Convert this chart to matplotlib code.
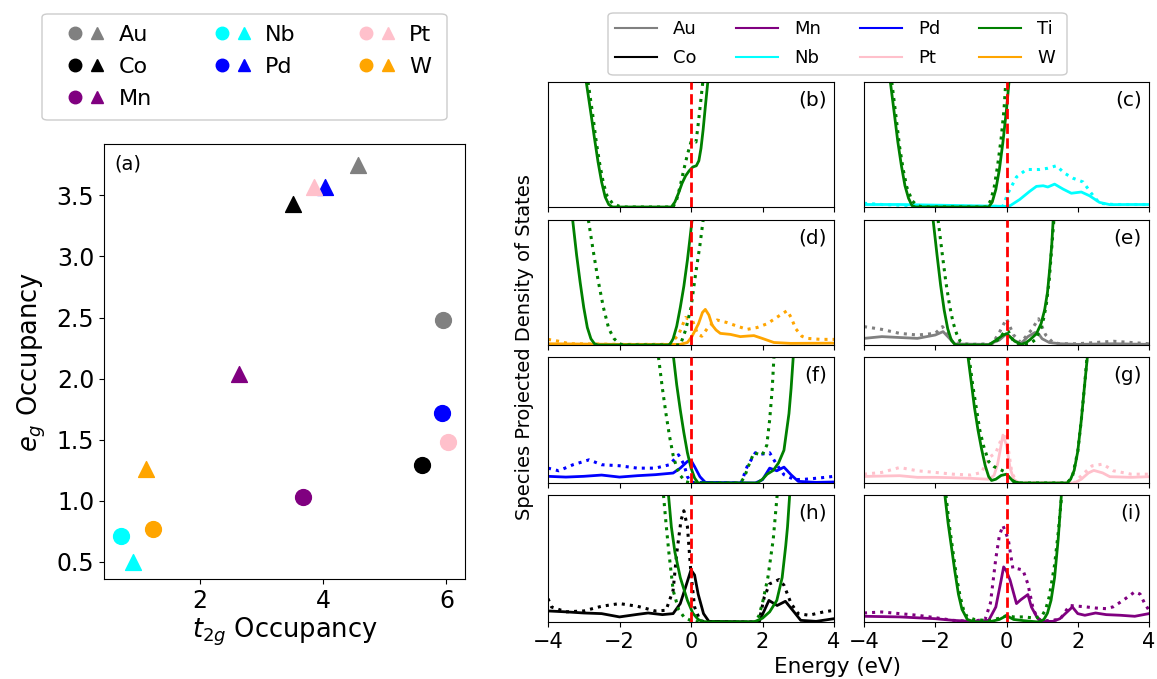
import matplotlib
matplotlib.use("Agg")
import matplotlib.pyplot as plt
from matplotlib.lines import Line2D
from matplotlib.legend_handler import HandlerTuple
from matplotlib.patches import FancyBboxPatch

# ---- (a) occupancies: (t2g, eg) for site A (circle) and site B (triangle)
species = ["Au", "Co", "Mn", "Nb", "Pd", "Pt", "W"]
colors = ["gray", "black", "purple", "cyan", "blue", "pink", "orange"]
t2g_circ = [5.95, 5.60, 3.67, 0.72, 5.93, 6.02, 1.25]
eg_circ = [2.48, 1.29, 1.03, 0.71, 1.72, 1.48, 0.77]
t2g_tri = [4.57, 3.52, 2.63, 0.92, 4.03, 3.85, 1.13]
eg_tri = [3.75, 3.43, 2.04, 0.50, 3.57, 3.57, 1.26]

# ---- (b)-(i) projected DOS, (energy eV, DOS arb.) ; solid / dotted pairs
ti_b = [(-2.93, 1.0), (-2.8, 0.75), (-2.7, 0.55), (-2.6, 0.36), (-2.5, 0.2), (-2.4, 0.08), (-2.3, 0.02),
        (-2.2, 0.0), (-0.55, 0.0), (-0.45, 0.04), (-0.35, 0.11), (-0.25, 0.19), (-0.15, 0.25), (-0.05, 0.29),
        (0.05, 0.32), (0.15, 0.33), (0.22, 0.37), (0.28, 0.47), (0.34, 0.62), (0.4, 0.8), (0.47, 1.0)]
ti_b_dot = [(-2.88, 1.0), (-2.75, 0.74), (-2.65, 0.52), (-2.55, 0.34), (-2.45, 0.19), (-2.35, 0.09),
            (-2.2, 0.03), (-2.0, 0.005), (-1.85, 0.0), (-0.5, 0.0), (-0.4, 0.06), (-0.3, 0.17), (-0.2, 0.3),
            (-0.1, 0.42), (0.0, 0.52), (0.08, 0.53), (0.14, 0.52), (0.2, 0.66), (0.27, 0.84), (0.33, 1.0)]

ti_c = [(-3.26, 1.0), (-3.15, 0.75), (-3.05, 0.52), (-2.95, 0.33), (-2.85, 0.17), (-2.75, 0.07), (-2.65, 0.01),
        (-2.55, 0.0), (-0.5, 0.0), (-0.4, 0.04), (-0.3, 0.14), (-0.2, 0.3), (-0.1, 0.52), (0.0, 0.78), (0.07, 1.0)]
ti_c_dot = [(-3.22, 1.0), (-3.1, 0.72), (-3.0, 0.48), (-2.9, 0.3), (-2.8, 0.16), (-2.65, 0.05), (-2.5, 0.01),
            (-2.35, 0.0), (-0.55, 0.0), (-0.45, 0.05), (-0.35, 0.15), (-0.25, 0.33), (-0.15, 0.55),
            (-0.07, 0.78), (-0.02, 1.0)]
nb_c = [(-4.0, 0.02), (-3.0, 0.02), (-2.0, 0.015), (-1.0, 0.01), (0.0, 0.005), (0.1, 0.01), (0.37, 0.06),
        (0.65, 0.125), (0.84, 0.165), (1.03, 0.17), (1.16, 0.16), (1.35, 0.183), (1.59, 0.143), (1.82, 0.11),
        (2.1, 0.12), (2.33, 0.09), (2.61, 0.037), (2.9, 0.019), (3.5, 0.02), (4.0, 0.02)]
nb_c_dot = [(-4.0, 0.03), (-3.5, 0.02), (-2.5, 0.01), (-1.0, 0.005), (-0.1, 0.005), (0.04, 0.11), (0.28, 0.24),
            (0.56, 0.3), (0.93, 0.3), (1.16, 0.31), (1.4, 0.33), (1.63, 0.27), (1.87, 0.23), (2.15, 0.2),
            (2.38, 0.11), (2.61, 0.03), (3.0, 0.02), (4.0, 0.02)]

ti_d = [(-3.31, 1.0), (-3.2, 0.72), (-3.1, 0.5), (-3.0, 0.3), (-2.9, 0.14), (-2.8, 0.05), (-2.7, 0.01),
        (-2.6, 0.0), (-0.6, 0.0), (-0.5, 0.05), (-0.4, 0.15), (-0.3, 0.3), (-0.2, 0.47), (-0.1, 0.68),
        (-0.03, 0.85), (0.03, 1.0)]
ti_d_dot = [(-2.87, 1.0), (-2.75, 0.78), (-2.6, 0.52), (-2.45, 0.3), (-2.3, 0.13), (-2.15, 0.05), (-2.0, 0.01),
            (-1.9, 0.0), (-0.3, 0.0), (-0.15, 0.12), (0.0, 0.3), (0.12, 0.55), (0.25, 0.8), (0.34, 1.0)]
w_d = [(-4.0, 0.01), (-2.0, 0.005), (-0.3, 0.005), (-0.1, 0.02), (0.03, 0.07), (0.21, 0.17), (0.32, 0.26),
       (0.4, 0.285), (0.5, 0.24), (0.59, 0.16), (0.7, 0.12), (0.82, 0.093), (1.1, 0.085), (1.38, 0.067),
       (1.6, 0.072), (1.76, 0.075), (1.99, 0.053), (2.32, 0.02), (2.79, 0.013), (4.0, 0.015)]
w_d_dot = [(-4.0, 0.045), (-3.7, 0.03), (-3.4, 0.01), (-2.0, 0.005), (-0.6, 0.005), (-0.35, 0.08),
           (-0.15, 0.22), (0.05, 0.19), (0.18, 0.09), (0.3, 0.07), (0.5, 0.15), (0.73, 0.2), (1.0, 0.18),
           (1.3, 0.15), (1.57, 0.125), (1.85, 0.14), (2.13, 0.17), (2.5, 0.24), (2.69, 0.275), (2.8, 0.22),
           (2.93, 0.13), (3.1, 0.07), (3.25, 0.053), (3.63, 0.045), (4.0, 0.045)]

ti_e = [(-2.06, 1.0), (-1.95, 0.72), (-1.85, 0.48), (-1.75, 0.28), (-1.65, 0.13), (-1.55, 0.04), (-1.45, 0.005),
        (-1.35, 0.0), (-0.5, 0.0), (-0.29, 0.04), (-0.12, 0.075), (0.0, 0.09), (0.12, 0.06), (0.23, 0.03),
        (0.42, 0.005), (0.55, 0.02), (0.65, 0.04), (0.84, 0.09), (0.97, 0.17), (1.07, 0.28), (1.15, 0.42),
        (1.21, 0.6), (1.27, 0.8), (1.31, 1.0)]
ti_e_dot = [(-1.92, 1.0), (-1.8, 0.72), (-1.7, 0.5), (-1.6, 0.32), (-1.5, 0.18), (-1.4, 0.09), (-1.3, 0.03),
            (-1.15, 0.0), (-0.45, 0.0), (-0.2, 0.05), (-0.05, 0.11), (0.05, 0.11), (0.2, 0.03), (0.4, 0.0),
            (0.65, 0.01), (0.8, 0.04), (0.95, 0.12), (1.05, 0.22), (1.12, 0.33), (1.2, 0.52), (1.27, 0.78),
            (1.33, 1.0)]
au_e = [(-4.0, 0.053), (-3.5, 0.067), (-3.0, 0.06), (-2.5, 0.053), (-2.0, 0.08), (-1.78, 0.107), (-1.6, 0.053),
        (-1.45, 0.008), (-0.5, 0.005), (-0.2, 0.04), (0.0, 0.09), (0.2, 0.04), (0.4, 0.01), (0.6, 0.067),
        (0.8, 0.1), (0.9, 0.09), (1.0, 0.05), (1.2, 0.02), (1.5, 0.01), (2.0, 0.005), (3.0, 0.01), (4.0, 0.005)]
au_e_dot = [(-4.0, 0.147), (-3.5, 0.125), (-3.0, 0.093), (-2.5, 0.08), (-2.0, 0.093), (-1.8, 0.147),
            (-1.65, 0.09), (-1.5, 0.02), (-1.0, 0.005), (-0.4, 0.01), (-0.2, 0.1), (0.0, 0.21), (0.2, 0.08),
            (0.4, 0.02), (0.7, 0.12), (0.9, 0.21), (1.1, 0.08), (1.3, 0.02), (1.5, 0.01), (2.0, 0.01),
            (2.5, 0.02), (3.0, 0.03), (3.5, 0.02), (4.0, 0.01)]

ti_f = [(-0.49, 1.0), (-0.4, 0.78), (-0.3, 0.58), (-0.2, 0.4), (-0.1, 0.24), (0.0, 0.12), (0.1, 0.04),
        (0.2, 0.0), (1.85, 0.0), (2.0, 0.03), (2.13, 0.07), (2.3, 0.1), (2.45, 0.16), (2.6, 0.26), (2.74, 0.55),
        (2.8, 0.75), (2.86, 1.0)]
ti_f_dot = [(-0.91, 1.0), (-0.8, 0.75), (-0.7, 0.55), (-0.6, 0.37), (-0.5, 0.22), (-0.4, 0.12), (-0.3, 0.06),
            (-0.15, 0.01), (0.0, 0.0), (1.38, 0.0), (1.5, 0.05), (1.6, 0.13), (1.76, 0.24), (1.99, 0.22),
            (2.12, 0.3), (2.2, 0.5), (2.27, 0.74), (2.32, 1.0)]
pd_f = [(-4.0, 0.053), (-3.5, 0.047), (-3.0, 0.053), (-2.5, 0.063), (-2.0, 0.047), (-1.5, 0.058), (-1.0, 0.066),
        (-0.5, 0.079), (-0.3, 0.118), (-0.1, 0.171), (0.0, 0.18), (0.1, 0.13), (0.25, 0.05), (0.4, 0.005),
        (1.8, 0.0), (2.0, 0.026), (2.2, 0.118), (2.4, 0.097), (2.6, 0.126), (2.8, 0.065), (3.0, 0.013),
        (3.5, 0.005), (4.0, 0.008)]
pd_f_dot = [(-4.0, 0.118), (-3.7, 0.097), (-3.3, 0.145), (-2.85, 0.184), (-2.5, 0.145), (-2.0, 0.137),
            (-1.5, 0.118), (-1.0, 0.118), (-0.6, 0.145), (-0.35, 0.224), (-0.2, 0.15), (-0.1, 0.05),
            (0.0, 0.005), (1.4, 0.0), (1.57, 0.13), (1.8, 0.24), (2.0, 0.23), (2.2, 0.24), (2.4, 0.145),
            (2.6, 0.066), (2.9, 0.026), (3.2, 0.03), (3.6, 0.04), (4.0, 0.053)]

ti_g = [(-1.08, 1.0), (-0.98, 0.78), (-0.9, 0.6), (-0.8, 0.42), (-0.7, 0.27), (-0.6, 0.14), (-0.5, 0.05),
        (-0.42, 0.02), (-0.3, 0.03), (-0.15, 0.06), (0.0, 0.07), (0.1, 0.04), (0.2, 0.01), (0.4, 0.0),
        (1.7, 0.0), (1.8, 0.03), (1.9, 0.1), (2.0, 0.25), (2.1, 0.5), (2.2, 0.8), (2.27, 1.0)]
ti_g_dot = [(-1.05, 1.0), (-0.95, 0.78), (-0.85, 0.6), (-0.75, 0.42), (-0.65, 0.3), (-0.5, 0.17),
            (-0.35, 0.13), (-0.2, 0.11), (-0.05, 0.09), (0.1, 0.03), (0.3, 0.0), (1.7, 0.0), (1.85, 0.05),
            (2.0, 0.25), (2.1, 0.5), (2.2, 0.8), (2.26, 1.0)]
pt_g = [(-4.0, 0.052), (-3.0, 0.058), (-2.5, 0.045), (-2.0, 0.045), (-1.5, 0.042), (-1.0, 0.037),
        (-0.5, 0.03), (-0.35, 0.06), (-0.25, 0.15), (-0.1, 0.38), (0.0, 0.3), (0.1, 0.12), (0.2, 0.03),
        (0.35, 0.0), (1.9, 0.0), (2.1, 0.03), (2.3, 0.08), (2.45, 0.1), (2.7, 0.08), (2.9, 0.05),
        (3.5, 0.045), (4.0, 0.05)]
pt_g_dot = [(-4.0, 0.07), (-3.5, 0.084), (-3.0, 0.123), (-2.5, 0.097), (-2.0, 0.084), (-1.5, 0.07),
            (-1.0, 0.063), (-0.7, 0.084), (-0.5, 0.2), (-0.3, 0.24), (-0.15, 0.345), (-0.05, 0.37),
            (0.05, 0.27), (0.15, 0.08), (0.3, 0.005), (1.9, 0.0), (2.1, 0.058), (2.4, 0.136), (2.7, 0.15),
            (3.0, 0.097), (3.5, 0.07), (4.0, 0.07)]

ti_h = [(-0.63, 1.0), (-0.55, 0.75), (-0.45, 0.55), (-0.3, 0.35), (-0.1, 0.17), (0.05, 0.07), (0.2, 0.02),
        (0.35, 0.0), (1.76, 0.0), (2.0, 0.03), (2.2, 0.08), (2.4, 0.17), (2.55, 0.35), (2.65, 0.6),
        (2.7, 0.75), (2.76, 1.0)]
ti_h_dot = [(-0.77, 1.0), (-0.7, 0.78), (-0.62, 0.55), (-0.5, 0.25), (-0.35, 0.1), (-0.2, 0.04), (0.0, 0.01),
            (0.2, 0.0), (1.8, 0.0), (1.9, 0.05), (2.0, 0.15), (2.15, 0.35), (2.3, 0.65), (2.41, 1.0)]
co_h = [(-4.0, 0.087), (-3.5, 0.08), (-3.0, 0.071), (-2.5, 0.066), (-2.0, 0.04), (-1.5, 0.06), (-1.2, 0.071),
        (-0.8, 0.058), (-0.5, 0.066), (-0.3, 0.145), (-0.15, 0.276), (0.0, 0.41), (0.1, 0.37), (0.2, 0.22),
        (0.35, 0.066), (0.5, 0.005), (1.9, 0.0), (2.05, 0.09), (2.18, 0.17), (2.41, 0.13), (2.64, 0.163),
        (2.88, 0.08), (3.07, 0.013), (3.5, 0.005), (4.0, 0.026)]
co_h_dot = [(-4.0, 0.184), (-3.9, 0.118), (-3.5, 0.08), (-3.0, 0.087), (-2.5, 0.124), (-2.0, 0.145),
            (-1.5, 0.124), (-1.0, 0.087), (-0.7, 0.092), (-0.5, 0.25), (-0.4, 0.54), (-0.28, 0.8),
            (-0.2, 0.876), (-0.1, 0.75), (0.0, 0.38), (0.1, 0.118), (0.25, 0.013), (0.4, 0.0), (1.9, 0.0),
            (2.05, 0.197), (2.2, 0.3), (2.46, 0.334), (2.6, 0.29), (2.8, 0.145), (3.0, 0.066), (3.3, 0.053),
            (3.7, 0.079), (4.0, 0.092)]

ti_i = [(-1.73, 1.0), (-1.64, 0.78), (-1.55, 0.6), (-1.45, 0.4), (-1.35, 0.22), (-1.25, 0.1), (-1.1, 0.02),
        (-0.9, 0.0), (-0.5, 0.0), (-0.2, 0.02), (0.0, 0.05), (0.2, 0.02), (0.5, 0.01), (0.9, 0.0), (1.05, 0.02),
        (1.15, 0.07), (1.25, 0.17), (1.35, 0.35), (1.45, 0.65), (1.54, 1.0)]
ti_i_dot = [(-1.7, 1.0), (-1.6, 0.75), (-1.5, 0.55), (-1.4, 0.35), (-1.3, 0.2), (-1.2, 0.09), (-1.1, 0.04),
            (-0.9, 0.02), (-0.5, 0.01), (-0.2, 0.03), (0.0, 0.05), (0.2, 0.04), (0.5, 0.04), (0.8, 0.03),
            (1.0, 0.05), (1.1, 0.1), (1.2, 0.2), (1.35, 0.45), (1.45, 0.7), (1.55, 1.0)]
mn_i = [(-4.0, 0.045), (-3.0, 0.04), (-2.0, 0.026), (-1.5, 0.013), (-1.0, 0.005), (-0.5, 0.013), (-0.3, 0.118),
        (-0.15, 0.33), (-0.08, 0.434), (0.0, 0.4), (0.1, 0.33), (0.28, 0.145), (0.4, 0.175), (0.6, 0.216),
        (0.7, 0.118), (0.85, 0.04), (1.0, 0.005), (1.3, 0.005), (1.5, 0.026), (1.7, 0.079), (1.85, 0.118),
        (2.0, 0.066), (2.2, 0.053), (2.5, 0.071), (2.8, 0.058), (3.2, 0.053), (3.6, 0.045), (4.0, 0.066)]
mn_i_dot = [(-4.0, 0.071), (-3.5, 0.079), (-3.0, 0.066), (-2.5, 0.053), (-2.0, 0.034), (-1.5, 0.013),
            (-1.0, 0.005), (-0.6, 0.02), (-0.45, 0.15), (-0.3, 0.5), (-0.2, 0.68), (-0.1, 0.76), (0.05, 0.65),
            (0.18, 0.42), (0.3, 0.42), (0.46, 0.41), (0.6, 0.3), (0.75, 0.1), (0.9, 0.02), (1.1, 0.01),
            (1.5, 0.02), (1.77, 0.13), (2.2, 0.12), (2.5, 0.11), (2.8, 0.105), (3.0, 0.12), (3.27, 0.17),
            (3.6, 0.237), (3.75, 0.22), (3.88, 0.145), (4.0, 0.092)]

dos_legend = [("Au", "gray"), ("Co", "black"), ("Mn", "purple"), ("Nb", "cyan"),
              ("Pd", "blue"), ("Pt", "pink"), ("Ti", "green"), ("W", "orange")]

# panel label, Ti solid, Ti dotted, dopant solid, dopant dotted, dopant colour
panels = [
    ("(b)", ti_b, ti_b_dot, None, None, None),
    ("(c)", ti_c, ti_c_dot, nb_c, nb_c_dot, "cyan"),
    ("(d)", ti_d, ti_d_dot, w_d, w_d_dot, "orange"),
    ("(e)", ti_e, ti_e_dot, au_e, au_e_dot, "gray"),
    ("(f)", ti_f, ti_f_dot, pd_f, pd_f_dot, "blue"),
    ("(g)", ti_g, ti_g_dot, pt_g, pt_g_dot, "pink"),
    ("(h)", ti_h, ti_h_dot, co_h, co_h_dot, "black"),
    ("(i)", ti_i, ti_i_dot, mn_i, mn_i_dot, "purple"),
]

W, H = 1157, 679
fig = plt.figure(figsize=(W / 100, H / 100), dpi=100)


def px_axes(x0, y0, x1, y1):
    return fig.add_axes([x0 / W, 1 - y1 / H, (x1 - x0) / W, (y1 - y0) / H])


def px_frame(x0, y0, x1, y1):
    # rounded legend-style box, given in pixel coords from the top-left corner
    fig.patches.append(FancyBboxPatch((x0 / W, 1 - y1 / H), (x1 - x0) / W, (y1 - y0) / H,
                                      boxstyle="round,pad=0,rounding_size=0.005",
                                      transform=fig.transFigure, fc="white", ec="0.8", lw=1,
                                      zorder=0))


# ---------------- (a) scatter ----------------
ax = px_axes(104, 144, 465, 579)
for c, xc, yc, xt, yt in zip(colors, t2g_circ, eg_circ, t2g_tri, eg_tri):
    ax.scatter(xc, yc, s=130, color=c, marker="o", zorder=3)
    ax.scatter(xt, yt, s=130, color=c, marker="^", zorder=3)
ax.set_xlim(0.45, 6.3)
ax.set_ylim(0.36, 3.92)
ax.set_xticks([2, 4, 6])
ax.set_yticks([0.5, 1.0, 1.5, 2.0, 2.5, 3.0, 3.5])
ax.tick_params(labelsize=17)
ax.set_xlabel(r"$t_{2g}$ Occupancy", fontsize=18.5, labelpad=2)
ax.set_ylabel(r"$e_g$ Occupancy", fontsize=18.5, labelpad=6)
ax.text(0.03, 0.975, "(a)", transform=ax.transAxes, ha="left", va="top", fontsize=14)

px_frame(42, 14, 447, 120)
handles = [(Line2D([], [], ls="none", marker="o", color=c, ms=9),
            Line2D([], [], ls="none", marker="^", color=c, ms=9)) for c in colors]
fig.legend(handles, species, handler_map={tuple: HandlerTuple(ndivide=None, pad=0)},
           loc="upper left", bbox_to_anchor=(64 / W, 1 - 25 / H), frameon=False,
           ncol=3, fontsize=16, handlelength=2.0, columnspacing=2.65, labelspacing=0.54,
           handletextpad=0.45, borderpad=0, borderaxespad=0)

# ---------------- (b)-(i) DOS grid ----------------
cols = [(548, 834), (864, 1149)]
rows = [(82, 207), (220, 345), (357, 483), (495, 622)]
for k, (lab, ti, ti_dot, sp, sp_dot, sc) in enumerate(panels):
    r, cidx = divmod(k, 2)
    x0, x1 = cols[cidx]
    y0, y1 = rows[r]
    a = px_axes(x0, y0, x1, y1)
    if sp is not None:
        a.plot([p[0] for p in sp], [p[1] for p in sp], color=sc, lw=2)
        a.plot([p[0] for p in sp_dot], [p[1] for p in sp_dot], color=sc, lw=2.2, ls=":")
    a.plot([p[0] for p in ti], [p[1] for p in ti], color="green", lw=2)
    a.plot([p[0] for p in ti_dot], [p[1] for p in ti_dot], color="green", lw=2.2, ls=":")
    a.axvline(0, color="red", ls="--", lw=2, zorder=4)
    a.set_xlim(-4, 4)
    a.set_ylim(0, 1)
    a.set_yticks([])
    a.set_xticks([-4, -2, 0, 2, 4])
    a.tick_params(labelsize=15)
    if r < 3:
        a.tick_params(labelbottom=False)
    a.text(0.975, 0.93, lab, transform=a.transAxes, ha="right", va="top", fontsize=14.5)

fig.text(524 / W, 1 - 347 / H, "Species Projected Density of States", rotation=90,
         ha="center", va="center", fontsize=14)
fig.text(838 / W, 1 - 667 / H, "Energy (eV)", ha="center", va="center", fontsize=15.5)

px_frame(608, 13, 1067, 75)
line_handles = [Line2D([], [], color=c, lw=1.5) for _, c in dos_legend]
fig.legend(line_handles, [n for n, _ in dos_legend], loc="upper left",
           bbox_to_anchor=(615 / W, 1 - 20 / H), frameon=False, ncol=4, fontsize=13,
           handlelength=2.33, columnspacing=2.16, labelspacing=0.6, handletextpad=0.89,
           borderpad=0, borderaxespad=0)

fig.savefig("out.png", dpi=100)
